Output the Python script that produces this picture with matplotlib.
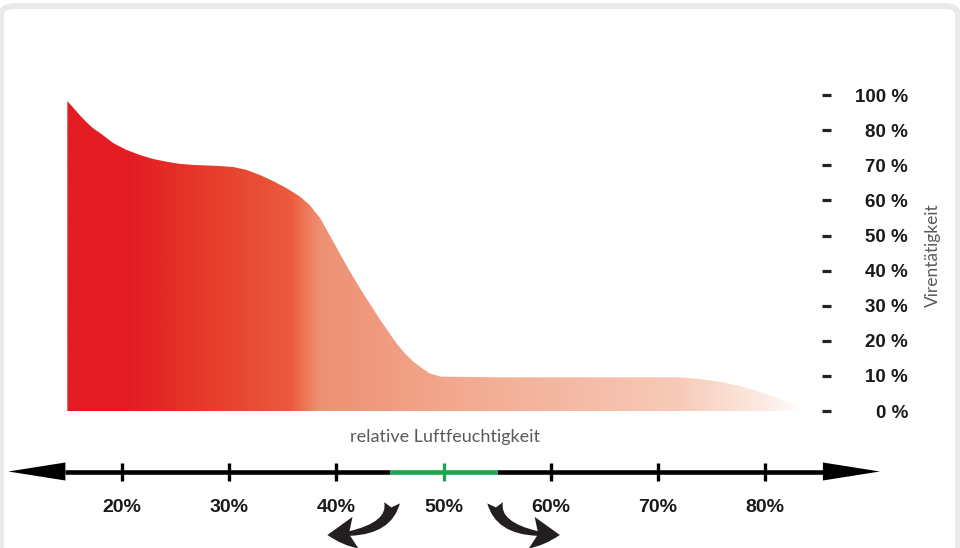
import numpy as np
import matplotlib
matplotlib.use("Agg")
import matplotlib.pyplot as plt
from matplotlib.colors import LinearSegmentedColormap
from matplotlib.patches import FancyArrowPatch, FancyBboxPatch

# --- data -----------------------------------------------------------------
# relative humidity (%) vs. virus activity (%)
humidity = [14.9, 15.5, 16.1, 16.7, 17.3, 18.0, 18.6, 19.2, 20.4, 21.7,
            22.9, 24.2, 25.4, 26.7, 29.1, 30.4, 31.6, 32.9, 34.1, 35.4,
            36.6, 37.5, 38.5, 39.1, 41.0, 42.5, 44.1, 45.6, 46.4,
            47.2, 48.0, 48.7, 49.3, 49.7, 55.0, 60.9, 66.5, 72.0, 73.9,
            75.8, 77.4, 78.9, 80.5, 82.0, 83.5]
activity = [96.6, 92.5, 88.3, 84.5, 81.1, 79.1, 77.7, 76.3, 74.4, 72.9,
            71.8, 71.0, 70.4, 70.1, 69.8, 69.5, 68.7, 67.2, 65.5, 63.4,
            61.1, 58.7, 54.9, 51.6, 41.1, 33.5, 25.9, 19.3, 16.4,
            14.0, 12.2, 10.7, 10.2, 9.8, 9.6, 9.6, 9.6, 9.6, 9.1,
            8.3, 7.3, 6.0, 4.4, 2.6, 0.9]

# right axis: evenly spaced ticks with a jump from 80 to 100
activity_ticks = [0, 10, 20, 30, 40, 50, 60, 70, 80, 100]
activity_labels = ["0 %", "10 %", "20 %", "30 %", "40 %", "50 %",
                   "60 %", "70 %", "80 %", "100 %"]

# humidity scale below
humidity_ticks = [20, 30, 40, 50, 60, 70, 80]
humidity_labels = ["20%", "30%", "40%", "50%", "60%", "70%", "80%"]
optimal_range = (45, 55)
scale_range = (9.4, 90.7)

# colour gradient along humidity
grad_pos = [14.9, 20.7, 24.9, 31.0, 35.7, 37.0, 38.5, 42.2, 50.6, 60.9, 72.0, 75.8, 80.5, 83.7]
grad_col = ["#E31B23", "#E41D24", "#E42F26", "#E84832", "#EA5B3F", "#ED7656",
            "#EE9275", "#EF977B", "#F2A88E", "#F4B8A2", "#F7CAB8", "#F9DACC",
            "#FCEDE6", "#FFFFFF"]

# --- layout helpers ------------------------------------------------------
W, H = 960, 548
PX_PER_PCT = 10.72      # pixels per humidity percent
X20 = 122               # pixel position of 20 %
ROW = 35.1              # pixels per activity tick step
BASE = 411              # pixel row of 0 %


def hum_at(px):
    return 20 + (px - X20) / PX_PER_PCT


BOLD = ["Liberation Sans", "DejaVu Sans"]
LIGHT = ["Lato", "DejaVu Sans"]
plt.rcParams["font.family"] = BOLD

fig = plt.figure(figsize=(W / 100, H / 100), dpi=100)
fig.patch.set_facecolor("white")

# rounded frame
frame = FancyBboxPatch((1 / W, -20 / H), 957 / W, (H + 20 - 6) / H,
                       boxstyle="round,pad=0,rounding_size=0.016",
                       transform=fig.transFigure, facecolor="none",
                       edgecolor="#E9EBEB", linewidth=4.3, zorder=10)
fig.add_artist(frame)

# --- main area chart -----------------------------------------------------
top_pos = 9.6
ax = fig.add_axes([0, (H - BASE) / H, 822 / W, top_pos * ROW / H])
ax.patch.set_visible(False)
ax.set_xlim(hum_at(0), hum_at(822))
ax.set_ylim(0, top_pos)

tick_pos = np.arange(len(activity_ticks))
level = np.interp(activity, activity_ticks, tick_pos)

poly = ax.fill_between(humidity, 0, level, facecolor="none", edgecolor="none")
positions = (np.array(grad_pos) - grad_pos[0]) / (grad_pos[-1] - grad_pos[0])
cmap = LinearSegmentedColormap.from_list("heat", list(zip(positions, grad_col)))
im = ax.imshow(np.linspace(0, 1, 600)[None, :], cmap=cmap, aspect="auto",
               extent=[grad_pos[0], grad_pos[-1], 0, max(level)],
               interpolation="bilinear", zorder=1)
im.set_clip_path(poly.get_paths()[0], transform=ax.transData)

for s in ax.spines.values():
    s.set_visible(False)
ax.set_xticks([])
ax.yaxis.tick_right()
ax.set_yticks(tick_pos)
ax.set_yticklabels(activity_labels, fontsize=13.5, fontweight="bold", color="#1A1A1A")
ax.tick_params(axis="y", direction="out", length=6.5, width=2.3, color="#222222",
               pad=55.4)
for lbl in ax.get_yticklabels():
    lbl.set_horizontalalignment("right")

fig.text(933 / W, 1 - 255 / H, "Virentätigkeit", rotation=90, ha="center",
         va="center", fontsize=12.5, color="#5A5A5A", family=LIGHT)
fig.text(445 / W, 1 - 437 / H, "relative Luftfeuchtigkeit", ha="center",
         va="center", fontsize=13, color="#5A5A5A", family=LIGHT)

# --- humidity scale ------------------------------------------------------
ax2 = fig.add_axes([0, 0, 1, 128 / H])
ax2.patch.set_visible(False)
ax2.set_xlim(hum_at(0), hum_at(W))
ax2.set_ylim(0, 128)
ax2.axis("off")
line_y = 548 - 471.5

head_len = 57 / PX_PER_PCT
head_half = 9
left_base = scale_range[0] + head_len
right_base = scale_range[1] - head_len
ax2.plot([left_base, optimal_range[0]], [line_y, line_y], color="black", lw=3.3,
         solid_capstyle="butt")
ax2.plot([optimal_range[1], right_base], [line_y, line_y], color="black", lw=3.3,
         solid_capstyle="butt")
ax2.plot(optimal_range, [line_y, line_y], color="#1AA650", lw=3.3,
         solid_capstyle="butt")
ax2.fill([scale_range[0], left_base, left_base],
         [line_y, line_y + head_half, line_y - head_half], color="black", lw=0)
ax2.fill([scale_range[1], right_base, right_base],
         [line_y, line_y + head_half, line_y - head_half], color="black", lw=0)

for h, lab in zip(humidity_ticks, humidity_labels):
    c = "#1AA650" if optimal_range[0] < h < optimal_range[1] else "black"
    ax2.plot([h], [line_y], marker="|", markersize=13, mew=2.4, color=c)
    ax2.text(h, 548 - 507, lab, ha="center", va="center", fontsize=14,
             fontweight="bold", color="#1A1A1A")

# curved arrows pointing away from the optimum
arrow_kw = dict(arrowstyle="fancy,head_length=0.75,head_width=0.85,tail_width=0.42",
                mutation_scale=27, color="#231F20", lw=0)
a1 = FancyArrowPatch((optimal_range[0] + 0.2, 548 - 500), (optimal_range[0] - 6.1, 548 - 535),
                     connectionstyle="angle3,angleA=90,angleB=0", **arrow_kw)
a2 = FancyArrowPatch((optimal_range[1] - 0.2, 548 - 500), (optimal_range[1] + 6.1, 548 - 535),
                     connectionstyle="angle3,angleA=90,angleB=0", **arrow_kw)
ax2.add_patch(a1)
ax2.add_patch(a2)

fig.savefig("out.png", dpi=100, facecolor="white")
